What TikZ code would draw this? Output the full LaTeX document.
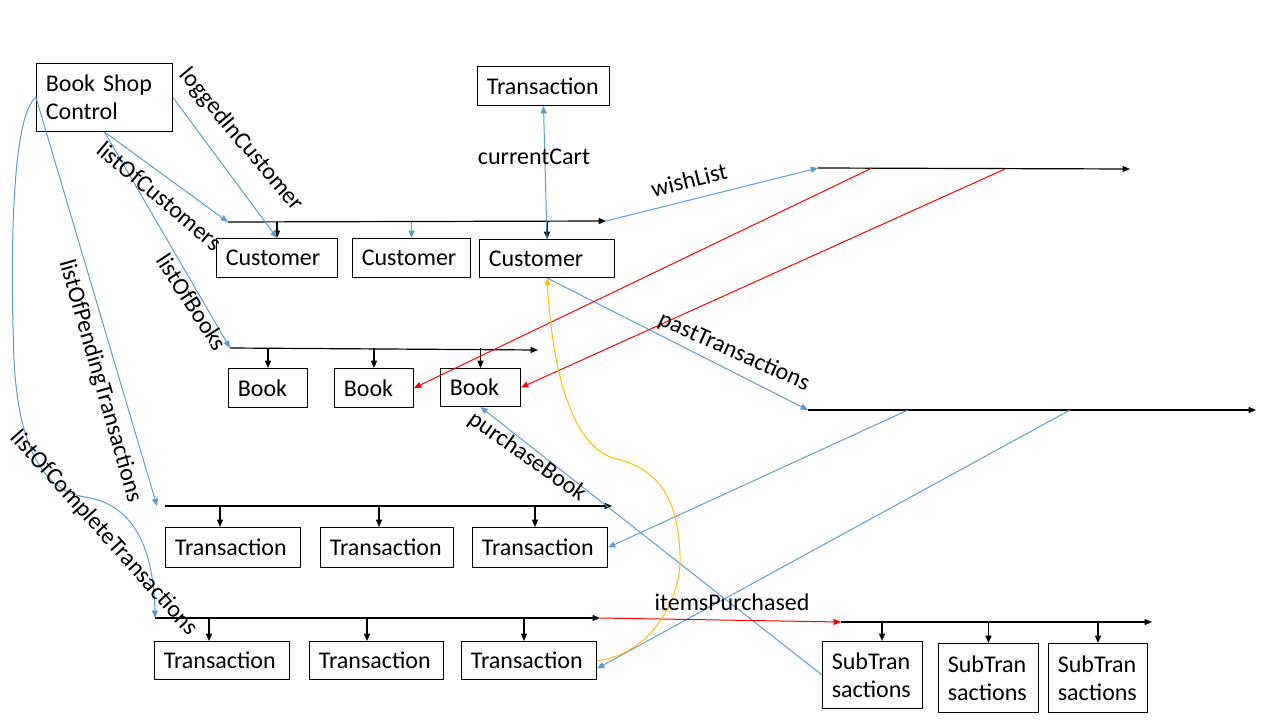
\documentclass[tikz,border=0pt]{standalone}
\usepackage{fontspec}
\setmainfont{Carlito}
\usetikzlibrary{arrows.meta}
\definecolor{linkblue}{RGB}{91,155,213}
\definecolor{linkred}{RGB}{255,0,0}
\definecolor{linkgold}{RGB}{255,192,0}
\tikzset{
  cls/.style={draw, line width=0.75pt, anchor=north west, inner xsep=7pt,
    inner ysep=0pt, align=left, font=\fontsize{18}{21}\selectfont},
  role/.style={inner sep=0pt, font=\fontsize{18}{21}\selectfont},
  list/.style={line width=0.9pt, -{Triangle[length=5.5pt,width=4.5pt]}},
  ref/.style={line width=0.75pt, draw=linkblue, -{Triangle[length=5.5pt,width=4.5pt,fill=linkblue]}},
  own/.style={ref, draw=linkred, -{Triangle[length=5.5pt,width=4.5pt,fill=linkred]}},
}
\begin{document}
\begin{tikzpicture}[x=0.75pt, y=-0.75pt]
  \useasboundingbox (0,0) rectangle (1280,720);
  % classes
  \node [cls, text width=88pt, minimum height=51pt] (ctrl) at (36,63) {Book Shop\\Control};
  \node [cls, text width=85pt, minimum height=29.25pt] (cart) at (477,66) {Transaction};
  \node [cls, text width=76.75pt, minimum height=29.25pt] (cust1) at (216,238) {Customer};
  \node [cls, text width=74.5pt, minimum height=29.25pt] (cust2) at (352,238) {Customer};
  \node [cls, text width=87.25pt, minimum height=28.5pt] (cust3) at (479,239) {Customer};
  \node [cls, text width=45.25pt, minimum height=29.25pt] (book1) at (228,368) {Book};
  \node [cls, text width=45.25pt, minimum height=29.25pt] (book2) at (334,368) {Book};
  \node [cls, text width=46pt, minimum height=28.5pt] (book3) at (440,368) {Book};
  \node [cls, text width=87.25pt, minimum height=30pt] (pend1) at (165,527) {Transaction};
  \node [cls, text width=85.75pt, minimum height=30pt] (pend2) at (320,527) {Transaction};
  \node [cls, text width=87.25pt, minimum height=30pt] (pend3) at (472,527) {Transaction};
  \node [cls, text width=87.25pt, minimum height=28.5pt] (done1) at (154,641) {Transaction};
  \node [cls, text width=86.5pt, minimum height=28.5pt] (done2) at (309,641) {Transaction};
  \node [cls, text width=87.25pt, minimum height=28.5pt] (done3) at (461,641) {Transaction};
  \node [cls, text width=61pt, minimum height=50.25pt] (sub1) at (822,641) {SubTran\\sactions};
  \node [cls, text width=61pt, minimum height=51.75pt] (sub2) at (938,643) {SubTran\\sactions};
  \node [cls, text width=60.25pt, minimum height=51.75pt] (sub3) at (1048,643) {SubTran\\sactions};
  % list lines
  \coordinate (custL) at (228,222); \coordinate (custR) at (606,221);
  \coordinate (bookL) at (230,348); \coordinate (bookR) at (538,350);
  \coordinate (pendIn) at (157,506);
  \coordinate (pendL) at (165,506); \coordinate (pendR) at (612,506);
  \coordinate (doneL) at (155,618); \coordinate (doneR) at (600,618);
  \coordinate (wishL) at (818,168); \coordinate (wishR) at (1130,169);
  \coordinate (pastL) at (808,410); \coordinate (pastR) at (1256,410);
  \coordinate (subL) at (841,622); \coordinate (subR) at (1152,622);
  \draw [list] (custL) -- (custR);
  \draw [list] (bookL) -- (bookR);
  \draw [list] (pendL) -- (pendR);
  \draw [list] (doneL) -- (doneR);
  \draw [list] (wishL) -- (wishR);
  \draw [list] (pastL) -- (pastR);
  \draw [list] (subL) -- (subR);
  % members of the lists
  \draw [list] (cust1.north |- custL) -- (cust1.north);
  \draw [ref] (cust2.north |- custL) -- (cust2.north);
  \draw [list] (cust3.north |- custL) -- (cust3.north);
  \draw [list] (book1.north |- bookL) -- (book1.north);
  \draw [list] (book2.north |- bookL) -- (book2.north);
  \draw [list] (book3.north |- bookL) -- (book3.north);
  \foreach \x/\b in {220/pend1, 379/pend2, 535/pend3}
    \draw [list] (\x,506) -- (\x,527);
  \foreach \x/\b in {209/done1, 367/done2, 524/done3}
    \draw [list] (\x,618) -- (\x,641);
  \draw [list] (882,622) -- (882,641);
  \draw [list] (sub2.north |- subL) -- (sub2.north);
  \draw [list] (sub3.north |- subL) -- (sub3.north);
  % references
  \draw [ref] (ctrl.east) -- (cust1.north);
  \draw [ref] (ctrl.south) -- (custL);
  \draw [ref] (ctrl.south) -- (bookL);
  \draw [ref] (ctrl.west) -- (pendIn);
  \draw [ref] (ctrl.west) .. controls (12,115) and (10,250) .. (14,360)
    .. controls (18,440) and (40,490) .. (85,497)
    .. controls (140,505) and (154,560) .. (doneL);
  \draw [ref, {Triangle[length=5.5pt,width=4.5pt,fill=linkblue]}-] (cart.south) -- (cust3.north);
  \draw [ref] (custR) -- (wishL);
  \draw [ref] (cust3.south) -- (pastL);
  \coordinate (wish1) at (872,168); \coordinate (wish2) at (1005,169);
  \draw [own] (wish1) -- (book2.east);
  \draw [own] (wish2) -- (book3.east);
  \coordinate (past1) at (908,410); \coordinate (past2) at (1070,410);
  \draw [ref] (past1) -- (pend3.east);
  \draw [ref] (past2) -- ([yshift=-6pt]done3.east);
  \draw [ref] (sub1.west) -- (book3.south);
  \draw [own] (doneR) -- (subL);
  \draw [line width=0.75pt, draw=linkgold, -{Triangle[length=5.5pt,width=4.5pt,fill=linkgold]}]
    (done3.east) .. controls (650,655) and (682,600) .. (680,555)
    .. controls (678,500) and (660,470) .. (617,459)
    .. controls (575,450) and (553,380) .. (cust3.south);
  % role names
  \node [role, rotate=-50] (logged) at (241,140) {loggedInCustomer};
  \node [role, rotate=-40] (custs) at (160,196) {listOfCustomers};
  \node [role, rotate=-57] (books) at (192,302) {listOfBooks};
  \node [role, rotate=-74] (pending) at (100,381) {listOfPendingTransactions};
  \node [role, rotate=-48] (complete) at (104,533) {listOfCompleteTransactions};
  \node [role] (current) at (534,157) {currentCart};
  \node [role, rotate=14] (wish) at (689,180) {wishList};
  \node [role, rotate=-24] (past) at (734,352) {pastTransactions};
  \node [role, rotate=-35] (purchase) at (527,457) {purchaseBook};
  \node [role] (items) at (732,602) {itemsPurchased};
\end{tikzpicture}
\end{document}
